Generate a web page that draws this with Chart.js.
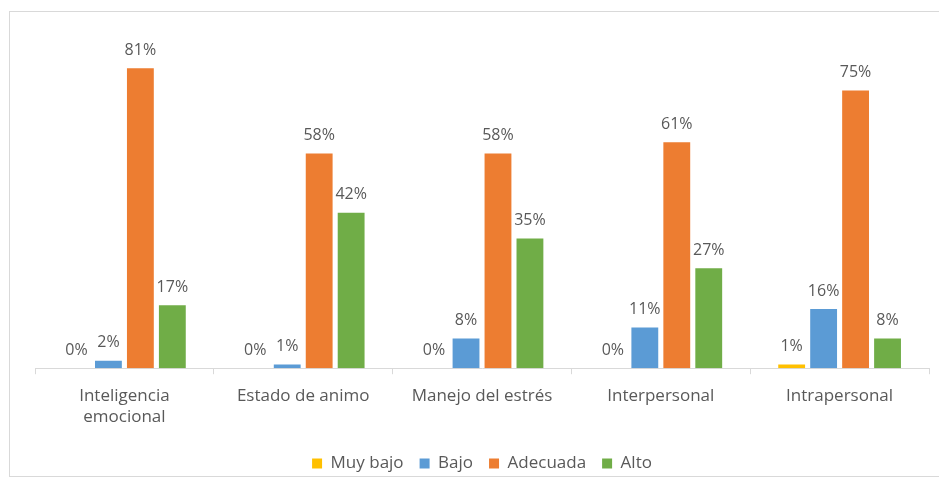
<!DOCTYPE html>
<html>
<head>
<meta charset="utf-8">
<script src="https://cdn.jsdelivr.net/npm/chart.js@4"></script>
<style>
  html, body { margin: 0; padding: 0; background: #fff; }
  #frame { position: absolute; left: 9px; top: 11px; width: 940px; height: 466px; border: 1px solid #d9d9d9; box-sizing: border-box; }
  #wrap { position: absolute; left: 0; top: 0; width: 939px; height: 485px; }
</style>
</head>
<body>
<div id="frame"></div>
<div id="wrap"><canvas id="myChart"></canvas></div>
<script>
var categories = [['Inteligencia', 'emocional'], 'Estado de animo', 'Manejo del estrés', 'Interpersonal', 'Intrapersonal'];
var muyBajo = [0, 0, 0, 0, 1];
var bajo = [2, 1, 8, 11, 16];
var adecuada = [81, 58, 58, 61, 75];
var alto = [17, 42, 35, 27, 8];

var textFont = '"Open Sans", sans-serif';

// draws the % labels above every bar
var valueLabels = {
    id: 'valueLabels',
    afterDatasetsDraw: function(chart) {
        var ctx = chart.ctx;
        ctx.save();
        ctx.font = '16px ' + textFont;
        ctx.fillStyle = '#595959';
        ctx.textAlign = 'center';
        ctx.textBaseline = 'bottom';
        chart.data.datasets.forEach(function(ds, i) {
            var meta = chart.getDatasetMeta(i);
            meta.data.forEach(function(bar, j) {
                ctx.fillText(ds.data[j] + '%', bar.x, bar.y - 10);
            });
        });
        ctx.restore();
    }
};

var ctx = document.getElementById('myChart').getContext('2d');
var myChart = new Chart(ctx, {
    type: 'bar',
    data: {
        labels: categories,
        datasets: [
            { label: 'Muy bajo', data: muyBajo, backgroundColor: '#FFC000' },
            { label: 'Bajo', data: bajo, backgroundColor: '#5B9BD5' },
            { label: 'Adecuada', data: adecuada, backgroundColor: '#ED7D31' },
            { label: 'Alto', data: alto, backgroundColor: '#70AD47' }
        ]
    },
    options: {
        responsive: true,
        maintainAspectRatio: false,
        animation: false,
        categoryPercentage: 0.715,
        barPercentage: 0.84,
        layout: { padding: { left: 35, right: 10, top: 35, bottom: 3 } },
        plugins: {
            legend: {
                position: 'bottom',
                labels: {
                    boxWidth: 10,
                    boxHeight: 10,
                    padding: 16,
                    color: '#595959',
                    font: { family: textFont, size: 17 }
                }
            },
            tooltip: { enabled: false }
        },
        scales: {
            x: {
                grid: { drawOnChartArea: false, drawTicks: true, tickLength: 6, color: '#d9d9d9' },
                border: { color: '#d9d9d9' },
                ticks: { color: '#595959', font: { family: textFont, size: 17 }, padding: 12 }
            },
            y: {
                display: false,
                min: 0,
                max: 90
            }
        }
    },
    plugins: [valueLabels]
});
</script>
</body>
</html>
